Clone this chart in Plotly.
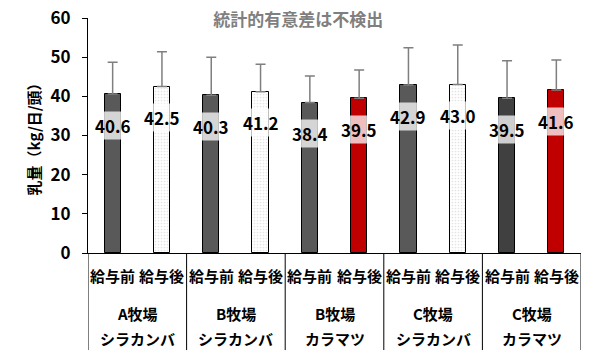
import plotly.graph_objects as go

sub_labels = ["給与前", "給与後"] * 5
farms = ["A牧場", "B牧場", "B牧場", "C牧場", "C牧場"]
trees = ["シラカンバ", "シラカンバ", "カラマツ", "シラカンバ", "カラマツ"]
means = [40.6, 42.5, 40.3, 41.2, 38.4, 39.5, 42.9, 43.0, 39.5, 41.6]
sds = [8.1, 8.9, 9.7, 7.0, 6.8, 7.2, 9.5, 10.1, 9.6, 7.7]
label_offset = 8.0

before_colors = ["#595959", "#595959", "#595959", "#595959", "#404040"]
after_kind = ["dot", "dot", "red", "dot", "red"]

FONT = "Noto Sans CJK JP"
xs = list(range(len(means)))

fig = go.Figure()

err = dict(type="data", symmetric=False, color="#7f7f7f", thickness=1.5, width=5)

bx = [2 * g for g in range(5)]
fig.add_trace(go.Bar(
    x=bx, y=[means[i] for i in bx], width=0.33,
    marker=dict(color=before_colors, line=dict(color="black", width=1)),
    error_y=dict(err, array=[sds[i] for i in bx], arrayminus=[0] * len(bx)),
    showlegend=False, hoverinfo="skip",
))
dx = [2 * g + 1 for g in range(5) if after_kind[g] == "dot"]
fig.add_trace(go.Bar(
    x=dx, y=[means[i] for i in dx], width=0.33,
    marker=dict(color="white", line=dict(color="black", width=1),
                pattern=dict(shape=".", fgcolor="#c8c8c8", bgcolor="white", size=3, solidity=0.25)),
    error_y=dict(err, array=[sds[i] for i in dx], arrayminus=[0] * len(dx)),
    showlegend=False, hoverinfo="skip",
))
rx = [2 * g + 1 for g in range(5) if after_kind[g] == "red"]
fig.add_trace(go.Bar(
    x=rx, y=[means[i] for i in rx], width=0.33,
    marker=dict(color="#c00000", line=dict(color="black", width=1)),
    error_y=dict(err, array=[sds[i] for i in rx], arrayminus=[0] * len(rx)),
    showlegend=False, hoverinfo="skip",
))

for x, m in zip(xs, means):
    fig.add_annotation(x=x, y=m - label_offset, text=f"{m:.1f}", showarrow=False,
                       font=dict(family=FONT, size=17, color="black", weight="bold"),
                       bgcolor="rgba(255,255,255,0.75)", borderpad=1)

for x, s in zip(xs, sub_labels):
    fig.add_annotation(x=x, y=-0.148, yref="paper", text=s, showarrow=False,
                       font=dict(family=FONT, size=15, color="black", weight="bold"))
for g in range(5):
    fig.add_annotation(x=2 * g + 0.5, y=-0.31, yref="paper", text=farms[g], showarrow=False,
                       font=dict(family=FONT, size=15, color="black", weight="bold"))
    fig.add_annotation(x=2 * g + 0.5, y=-0.418, yref="paper", text=trees[g], showarrow=False,
                       font=dict(family=FONT, size=15, color="black", weight="bold"))
for g in range(6):
    fig.add_shape(type="line", x0=2 * g - 0.5, x1=2 * g - 0.5, y0=0, y1=-0.413,
                  xref="x", yref="paper", line=dict(color="black", width=1))

# y-axis title
fig.add_annotation(x=0, xref="paper", xshift=-55, xanchor="center", y=0.5, yref="paper",
                   yanchor="middle", text="乳量（kg/日/頭）",
                   showarrow=False, textangle=-90,
                   font=dict(family=FONT, size=15, color="black", weight="bold"))

fig.update_layout(
    width=600, height=360,
    margin=dict(l=88, r=19, t=18, b=107, autoexpand=False),
    paper_bgcolor="white", plot_bgcolor="white",
    title=dict(text="統計的有意差は不検出", x=0.497, xref="container", xanchor="center",
               y=1 - 20 / 360, yref="container", yanchor="middle",
               font=dict(family=FONT, size=17, color="#7f7f7f", weight="bold")),
    xaxis=dict(range=[-0.5, 9.5], showticklabels=False, ticks="", showgrid=False,
               zeroline=False, showline=True, linecolor="black", linewidth=1, automargin=False),
    yaxis=dict(range=[0, 60], dtick=10, showgrid=False, zeroline=False, automargin=False,
               showline=True, linecolor="black", linewidth=1,
               ticks="outside", ticklen=5, tickcolor="black", ticklabelstandoff=8,
               tickfont=dict(family=FONT, size=17, color="black", weight="bold")),
    bargap=0,
)

fig.write_html("out.html", config={"displayModeBar": False},
               post_script="document.body.style.margin='0';")
